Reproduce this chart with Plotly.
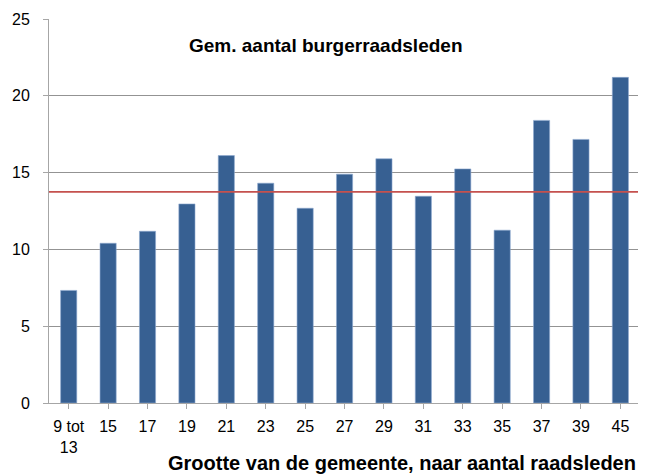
import plotly.graph_objects as go

categories = ["9 tot<br>13", "15", "17", "19", "21", "23", "25", "27", "29", "31", "33", "35", "37", "39", "45"]
values = [7.33, 10.40, 11.18, 12.96, 16.11, 14.31, 12.68, 14.90, 15.90, 13.46, 15.24, 11.25, 18.40, 17.16, 21.20]
average_value = 13.75
chart_title = "Gem. aantal burgerraadsleden"
x_title = "Grootte van de gemeente, naar aantal raadsleden"

FONT = "Liberation Sans, Arial, sans-serif"

fig = go.Figure()
fig.add_trace(go.Bar(
    x=list(range(len(categories))),
    y=values,
    marker=dict(color="#376092", line=dict(color="#8EA9D0", width=0.6)),
    width=0.41,
    showlegend=False,
))

fig.add_shape(type="line", xref="paper", yref="y", x0=0, x1=1,
              y0=average_value, y1=average_value,
              line=dict(color="#C5514E", width=1.8), layer="above")

fig.add_annotation(text="<b>" + chart_title + "</b>", xref="paper", yref="paper",
                   x=0.464, y=0.932, xanchor="center", yanchor="middle",
                   showarrow=False, font=dict(family=FONT, size=19, color="#000000"))
fig.add_annotation(text="<b>" + x_title + "</b>", xref="paper", yref="paper",
                   x=0.987, y=-0.156, xanchor="right", yanchor="middle",
                   showarrow=False, font=dict(family=FONT, size=20, color="#000000"))

fig.update_layout(
    width=638, height=467,
    margin=dict(l=41, r=0, t=11, b=72),
    paper_bgcolor="white", plot_bgcolor="white",
    font=dict(family=FONT, size=16, color="#000000"),
    xaxis=dict(
        range=[-0.5, 14.65],
        tickmode="array",
        tickvals=list(range(len(categories))),
        ticktext=categories,
        tickson="boundaries",
        ticks="outside", ticklen=5, tickcolor="#A6A6A6",
        showline=True, linecolor="#A6A6A6", linewidth=1,
        showgrid=False, zeroline=False,
        ticklabelstandoff=4,
        tickfont=dict(family=FONT, size=16, color="#000000"),
    ),
    yaxis=dict(
        range=[0, 25],
        tickvals=[0, 5, 10, 15, 20, 25],
        ticks="outside", ticklen=5, tickcolor="#A6A6A6",
        showline=True, linecolor="#A6A6A6", linewidth=1,
        showgrid=True, gridcolor="#939393", gridwidth=1,
        zeroline=False,
        ticklabelstandoff=10,
        tickfont=dict(family=FONT, size=16, color="#000000"),
    ),
)

fig.write_html("out.html")
